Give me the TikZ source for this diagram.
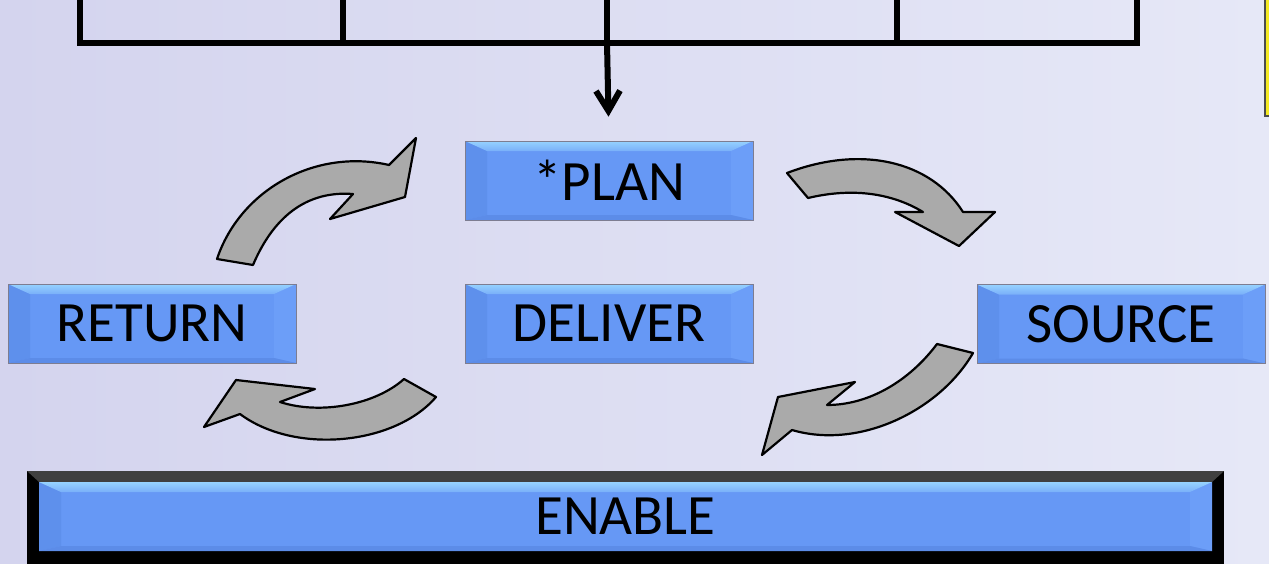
\documentclass[tikz,border=0pt]{standalone}
\usepackage{fontspec}
\setmainfont{Carlito}
\usetikzlibrary{arrows.meta}

\definecolor{bgleft}{RGB}{212,212,238}
\definecolor{bgright}{RGB}{230,232,247}
\definecolor{boxblue}{RGB}{102,152,245}
\definecolor{boxlight}{RGB}{150,210,255}
\definecolor{boxside}{RGB}{94,144,236}
\definecolor{boxrside}{RGB}{108,158,248}
\definecolor{boxbot}{RGB}{92,140,232}
\definecolor{boxedge}{RGB}{125,125,145}
\definecolor{arrowgray}{RGB}{170,170,170}

\newcommand\boxfont{\fontsize{57}{62}\selectfont}

\begin{document}
\begin{tikzpicture}
  [x=1pt,y=-1pt,
   bevel/.style={rectangle,inner sep=0pt,minimum width=288pt,minimum height=79pt,
     fill=boxblue,draw=boxedge,line width=0.7pt,font=\boxfont,
     path picture={
       \fill[boxside] (path picture bounding box.north west)
         -- ([shift={(22pt,-10pt)}]path picture bounding box.north west)
         -- ([shift={(22pt,5pt)}]path picture bounding box.south west)
         -- (path picture bounding box.south west) -- cycle;
       \fill[boxrside] (path picture bounding box.north east)
         -- ([shift={(-22pt,-10pt)}]path picture bounding box.north east)
         -- ([shift={(-22pt,5pt)}]path picture bounding box.south east)
         -- (path picture bounding box.south east) -- cycle;
       \fill[boxbot] (path picture bounding box.south west)
         -- ([shift={(22pt,5pt)}]path picture bounding box.south west)
         -- ([shift={(-22pt,5pt)}]path picture bounding box.south east)
         -- (path picture bounding box.south east) -- cycle;
       \shade[top color=boxlight,bottom color=boxblue!60!boxlight]
         (path picture bounding box.north west)
         -- ([shift={(22pt,-10pt)}]path picture bounding box.north west)
         -- ([shift={(-22pt,-10pt)}]path picture bounding box.north east)
         -- (path picture bounding box.north east) -- cycle;
     }},
   bentarrow/.style={fill=arrowgray,draw=black,line width=2.2pt,line join=round},
   bracket/.style={line width=6pt}]

  \path[use as bounding box,clip] (0,0) rectangle (1269,563);
  \shade[left color=bgleft,right color=bgright] (0,0) rectangle (1269,563);
  \fill[yellow!90!white!95!black] (1265,-2) rectangle (1275,116);
  \draw[black!70,line width=1.5pt] (1265,-2) -- (1265,116) -- (1275,116);

  % boxes
  \node[bevel] (plan)    at (609,180.5)  {*PLAN};
  \node[bevel] (return)  at (152,323.5)  {RETURN};
  \node[bevel] (deliver) at (609,323.5)  {DELIVER};
  \node[bevel] (source)  at (1121,324)   {SOURCE};

  % enable bar with its black frame
  \fill[black] (27,471) rectangle (1224,575);
  \fill[black!75] (27,471) -- (1224,471) -- (1212,482) -- (39,482) -- cycle;
  \node[bevel,minimum width=1173pt,minimum height=69pt,draw=none] (enable) at (625.5,516.5) {ENABLE};

  % bracket on top
  \foreach \i/\x in {1/80,2/343,3/607,4/897,5/1137} {
    \coordinate (top\i) at (\x,-5);
    \coordinate (bar\i) at (\x,43);
  }
  \draw[bracket] (top1) -- (bar1) -- (bar5) -- (top5);
  \foreach \i in {2,3,4}
    \draw[bracket] (top\i) -- (bar\i);
  \draw[bracket,-{Straight Barb[length=20pt,width=24pt]},shorten >=24pt] (bar3) -- (plan.north);

  % turning arrows
  \draw[bentarrow] (217,259) .. controls (240,190) and (315,148) .. (389,165)
    -- (416,138) -- (405,197) -- (330,219) -- (353,194)
    .. controls (300,190) and (270,225) .. (253,265) -- cycle;
  \draw[bentarrow] (787,173) .. controls (860,145) and (930,160) .. (963,212)
    -- (995,212) -- (959,246) -- (895,212) -- (923,212)
    .. controls (890,192) and (850,188) .. (808,198) -- cycle;
  \draw[bentarrow] (973,353) .. controls (940,410) and (860,450) .. (792,430)
    -- (762,455) -- (778,397) -- (855,382) -- (827,405)
    .. controls (870,405) and (910,380) .. (937,344) -- cycle;
  \draw[bentarrow] (436,397) .. controls (395,445) and (295,455) .. (240,414)
    -- (204,427) -- (236,380) -- (315,389) -- (280,402)
    .. controls (320,415) and (375,405) .. (404,379) -- cycle;
\end{tikzpicture}
\end{document}
